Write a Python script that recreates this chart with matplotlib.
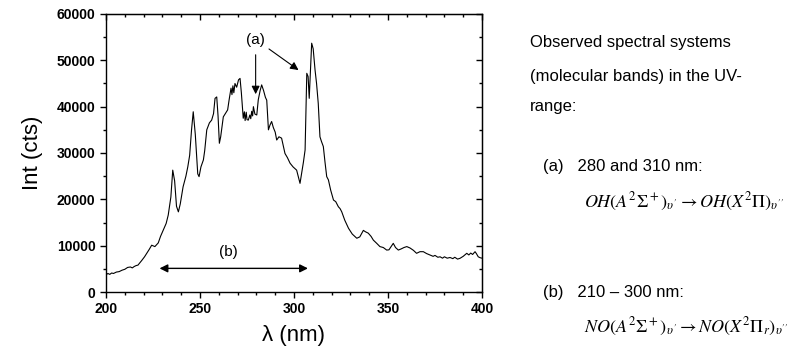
import numpy as np
import matplotlib
matplotlib.use("Agg")
import matplotlib.pyplot as plt
from matplotlib.ticker import MultipleLocator

plt.rcParams['font.family'] = ['Liberation Sans', 'DejaVu Sans']
plt.rcParams['mathtext.fontset'] = 'stix'

# Spektrum
wl = [200.0, 201, 202, 203, 204, 205.5, 207, 208.5, 210, 211.5, 213, 214, 215, 216, 217,
      218, 219, 220.5, 221.6, 223, 224.3, 226, 227.8, 229, 230.5, 232, 233.1, 234.5,
      235.5, 236.5, 237.5, 238.5, 239.5, 241, 242.5, 243.5, 244.5, 245.5, 246.4, 247.5,
      248.8, 249.5, 250.5, 251.8, 252.5, 253.6, 255, 256.2, 257.2, 258, 258.9, 259.6,
      260.3, 261, 262.4, 263.5, 264.7, 265.5, 266.5, 267, 267.5, 268, 268.6, 269.5,
      270.5, 271.3, 272, 273, 273.6, 274, 274.6, 275, 275.7, 276.5, 277, 277.5, 278,
      278.4, 279.2, 280.2, 281, 282, 282.8, 283.8, 284.8, 285.5, 286.4, 287.2, 288.1,
      289, 290, 290.8, 292, 293.4, 294.3, 295.2, 296.5, 297.9, 299.5, 301.4, 302.5,
      303.2, 304, 305, 305.9, 306.4, 306.8, 307.5, 308.1, 308.8, 309.4, 310.2, 311.2,
      312, 312.9, 313.8, 314.6, 315.6, 316.5, 317.4, 318.3, 319.5, 321, 322.2, 323.6,
      324.5, 325.4, 327, 329, 331, 333.4, 335, 336.9, 338, 339.5, 341, 342.2, 344,
      345.7, 347.5, 349.3, 350.5, 352.8, 354, 355.5, 357, 358.5, 360, 361.7, 363.5,
      365.2, 367, 368.8, 370.5, 372.3, 374, 375, 376.5, 377.7, 379, 380, 381.5, 383,
      384.5, 385.5, 387, 388.3, 390, 391.9, 393, 394, 395, 396.3, 397, 398, 399, 400]
intensity = [3700, 4000, 3800, 4100, 4000, 4300, 4400, 4700, 4900, 5300, 5400, 5200, 5500,
             5700, 5800, 6300, 6800, 7600, 8300, 9200, 10100, 9800, 10600, 12000, 13400,
             14800, 16600, 20500, 26300, 24000, 18500, 17300, 19000, 22700, 25000, 27000,
             29500, 35000, 38900, 34000, 25500, 24900, 27000, 28500, 30500, 35000, 36500,
             37100, 38500, 41800, 42100, 38000, 32100, 33500, 37800, 38500, 39300, 41500,
             44000, 42600, 44500, 43000, 45000, 44200, 45800, 46100, 43000, 37500, 38900,
             37000, 38800, 37200, 37100, 38200, 37400, 39000, 38000, 40000, 38400, 38200,
             41500, 43500, 44700, 43500, 42000, 41400, 35000, 36000, 36800, 35500, 34500,
             32800, 33500, 33200, 31500, 29900, 29000, 27800, 27000, 26300, 24500, 23450,
             25500, 28000, 30650, 40000, 47200, 46500, 41800, 48000, 53700, 52500, 47900,
             45000, 40700, 33500, 32500, 31400, 28000, 24900, 24200, 22000, 19850, 19500,
             18400, 18000, 17300, 15500, 13750, 12500, 11600, 11900, 13300, 13000, 12700,
             12000, 11200, 10500, 9800, 9600, 9050, 9100, 10500, 9600, 9050, 9300, 9600,
             9800, 9500, 9000, 8350, 8700, 8700, 8300, 8000, 7700, 7900, 7500, 7600, 7300,
             7600, 7300, 7450, 7200, 7500, 7100, 7270, 7700, 8350, 8000, 8400, 8100, 8700,
             8300, 7600, 7400, 7300]

fig = plt.figure(figsize=(7.91, 3.53), dpi=100)
ax = fig.add_axes([106/791, 61/353, 376/791, 278/353])

ax.plot(wl, intensity, color='black', lw=0.8)

ax.set_xlim(200, 400)
ax.set_ylim(0, 60000)
ax.xaxis.set_major_locator(MultipleLocator(50))
ax.xaxis.set_minor_locator(MultipleLocator(10))
ax.yaxis.set_major_locator(MultipleLocator(10000))
ax.yaxis.set_minor_locator(MultipleLocator(5000))
ax.tick_params(which='major', direction='out', length=4, width=1, labelsize=10)
ax.tick_params(which='minor', direction='out', length=2.5, width=1)
for lbl in ax.get_xticklabels() + ax.get_yticklabels():
    lbl.set_fontweight('bold')
for s in ax.spines.values():
    s.set_linewidth(1)

# Ticks oben und rechts nach innen
top = ax.secondary_xaxis('top')
top.xaxis.set_major_locator(MultipleLocator(50))
top.xaxis.set_minor_locator(MultipleLocator(10))
top.tick_params(which='major', direction='in', length=4, width=1, labeltop=False)
top.tick_params(which='minor', direction='in', length=2.5, width=1)
right = ax.secondary_yaxis('right')
right.yaxis.set_major_locator(MultipleLocator(10000))
right.yaxis.set_minor_locator(MultipleLocator(5000))
right.tick_params(which='major', direction='in', length=4, width=1, labelright=False)
right.tick_params(which='minor', direction='in', length=2.5, width=1)

ax.set_xlabel('λ (nm)', fontsize=16, labelpad=6)
ax.set_ylabel('Int (cts)', fontsize=16, labelpad=10)

# Pfeile
ax.text(279.3, 54400, '(a)', fontsize=11, ha='center', va='center')
ax.annotate('', xy=(279.6, 42100), xytext=(279.6, 51800),
            arrowprops=dict(arrowstyle='-|>', color='black', lw=0.8, mutation_scale=12))
ax.annotate('', xy=(303.6, 47550), xytext=(285.5, 52800),
            arrowprops=dict(arrowstyle='-|>', color='black', lw=0.8, mutation_scale=12))
ax.text(264.9, 8700, '(b)', fontsize=11, ha='center', va='center')
ax.annotate('', xy=(308.9, 5100), xytext=(227, 5100),
            arrowprops=dict(arrowstyle='<|-|>', color='black', lw=1, mutation_scale=12))

# Text rechts
def fx(px):
    return px / 791

def fy(py):
    return 1 - py / 353

fig.text(fx(530), fy(42), 'Observed spectral systems', fontsize=12, va='center')
fig.text(fx(530), fy(76), '(molecular bands) in the UV-', fontsize=12, va='center')
fig.text(fx(530), fy(107), 'range:', fontsize=12, va='center')
fig.text(fx(543), fy(167), '(a)   280 and 310 nm:', fontsize=12, va='center')
fig.text(fx(584), fy(202),
         r'$OH\left(A^2\Sigma^+\right)_{\upsilon^{\prime}} \rightarrow OH\left(X^2\Pi\right)_{\upsilon^{\prime\prime}}$',
         fontsize=13, va='center')
fig.text(fx(543), fy(293), '(b)   210 – 300 nm:', fontsize=12, va='center')
fig.text(fx(584), fy(327),
         r'$NO\left(A^2\Sigma^+\right)_{\upsilon^{\prime}} \rightarrow NO\left(X^2\Pi_r\right)_{\upsilon^{\prime\prime}}$',
         fontsize=13, va='center')

fig.savefig('out.png', dpi=100)
